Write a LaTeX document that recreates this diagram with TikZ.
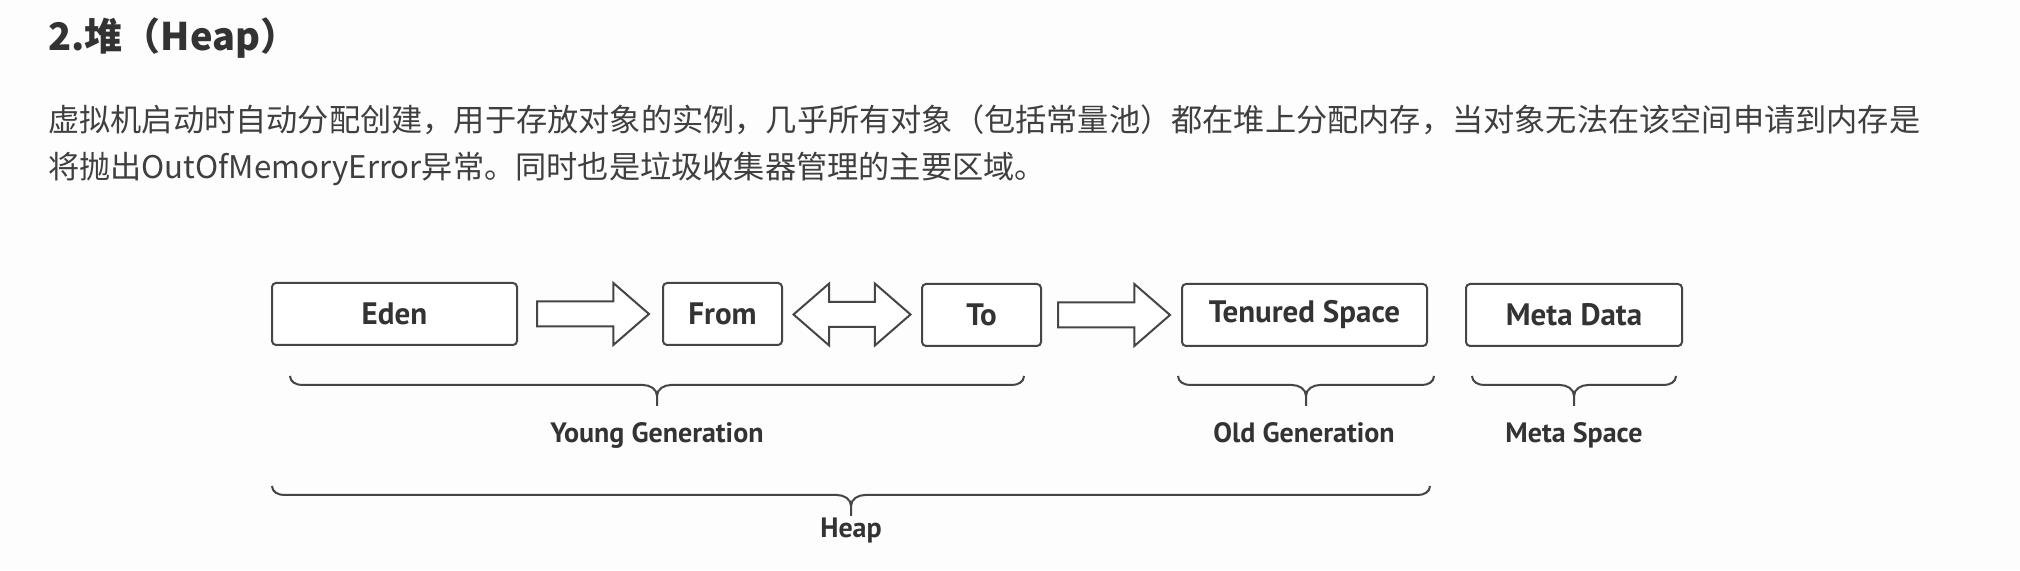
\documentclass[tikz,border=0pt]{standalone}
\usepackage{fontspec}
\setmainfont{Noto Sans CJK SC}
\newfontfamily\labelfont{PT Sans}
\usetikzlibrary{shapes.arrows,calc}
\definecolor{ink}{HTML}{333333}
\definecolor{bodyink}{HTML}{3F3F3F}
\definecolor{frame}{HTML}{454545}
\definecolor{page}{HTML}{FDFDFD}
\tikzset{
  region/.style={draw=frame,line width=2pt,rounded corners=4pt,fill=white,minimum height=62pt,
    text=ink,font=\labelfont\bfseries\fontsize{31}{34}\selectfont},
  flow/.style={single arrow,draw=frame,line width=2pt,fill=white,inner xsep=0pt,inner ysep=11.5pt,
    single arrow head extend=18.5pt,single arrow tip angle=82,minimum height=112pt,anchor=tail},
  swap/.style={double arrow,draw=frame,line width=2pt,fill=white,inner xsep=0pt,inner ysep=11.5pt,
    double arrow head extend=18.5pt,double arrow tip angle=82,minimum height=117pt},
  bracket/.style={draw=frame,line width=2pt},
  caption/.style={text=ink,inner sep=0pt,anchor=base,font=\labelfont\bfseries\fontsize{28}{32}\selectfont}
}
\newcommand{\genbrace}[4]{%
  \pgfmathsetmacro\bm{(#1+#2)/2}%
  \pgfmathsetmacro\bl{#1+12}\pgfmathsetmacro\br{#2-12}%
  \pgfmathsetmacro\bml{\bm-14}\pgfmathsetmacro\bmr{\bm+14}%
  \pgfmathsetmacro\ba{#3-9}\pgfmathsetmacro\bb{#3-20}\pgfmathsetmacro\bc{#3-30}%
  \draw[bracket] (#1,#3) to[out=-90,in=180] (\bl,\ba) -- (\bml,\ba)
    to[out=0,in=90] (\bm,\bb) -- (\bm,\bc)
    (\bm,\bb) to[out=90,in=180] (\bmr,\ba) -- (\br,\ba)
    to[out=0,in=-90] (#2,#3);
  \coordinate (#4) at (\bm,\bc);}
\begin{document}
\begin{tikzpicture}[x=1pt,y=1pt]
\fill[page] (0,0) rectangle (2020,570);
\useasboundingbox (0,0) rectangle (2020,570);
\node[anchor=west,inner sep=0pt,text=ink,font=\bfseries\fontsize{38}{42}\selectfont] (title) at (48,532) {2.堆（Heap）};
\node[anchor=west,inner sep=0pt,text=bodyink,font=\fontsize{31.2}{36}\selectfont] (line1) at (48,450) {虚拟机启动时自动分配创建，用于存放对象的实例，几乎所有对象（包括常量池）都在堆上分配内存，当对象无法在该空间申请到内存是};
\node[anchor=west,inner sep=0pt,text=bodyink,font=\fontsize{31.2}{36}\selectfont] (line2) at (48,401) {将抛出OutOfMemoryError异常。同时也是垃圾收集器管理的主要区域。};
\node[region,minimum width=245pt] (eden) at (394.5,256) {Eden};
\node[region,minimum width=119pt] (from) at (722.5,256) {From};
\node[region,minimum width=119pt] (to) at (981.5,255) {To};
\node[region,minimum width=245pt] (tenured) at (1304.5,255) {Tenured Space};
\node[region,minimum width=216pt] (meta) at (1574,255) {Meta Data};
\node[flow] (edenfrom) at ($(eden.east)+(18,0)$) {};
\node[swap] (fromto) at ($(from.east)!.5!(to.west)$) {};
\node[flow] (toold) at ($(to.east)+(15,0)$) {};
\genbrace{290}{1024}{194}{youngtip}
\genbrace{1178}{1434}{194}{oldtip}
\genbrace{1472}{1676}{194}{metatip}
\genbrace{272}{1430}{84}{heaptip}
\node[caption] (young) at (657,127) {Young Generation};
\node[caption] (old) at (1304,127) {Old Generation};
\node[caption] (metaspace) at (1574,127) {Meta Space};
\node[caption] (heap) at (851,33) {Heap};
\end{tikzpicture}
\end{document}
